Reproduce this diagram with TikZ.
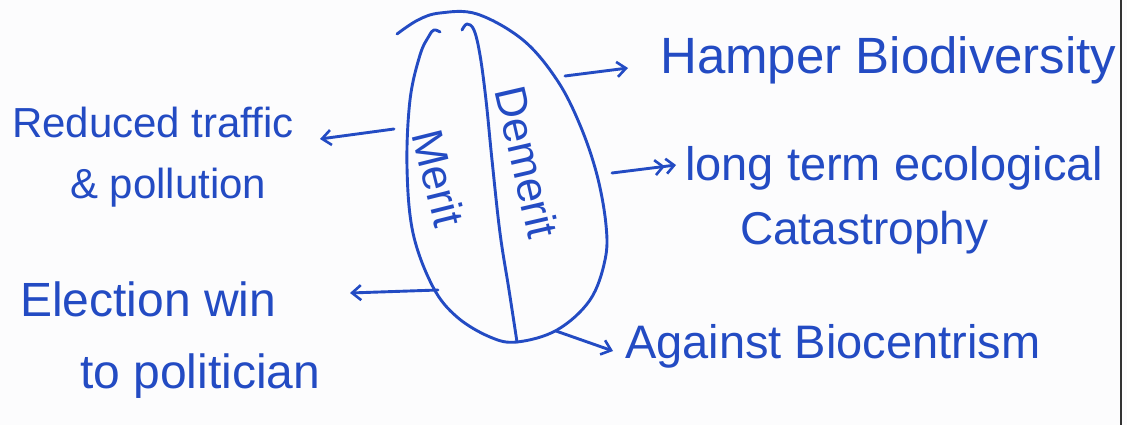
\documentclass[tikz,border=0pt]{standalone}
\usepackage{fontspec}
\setmainfont{Liberation Sans}
\usetikzlibrary{arrows.meta}
\definecolor{ink}{RGB}{35,75,195}
\definecolor{paper}{RGB}{252,252,253}
\begin{document}
\begin{tikzpicture}[x=1pt,y=-1pt,
  stroke/.style={draw=ink,line width=2.9pt,line cap=round,line join=round},
  conn/.style={stroke,-{Straight Barb[length=9pt,width=15pt,line width=2.6pt]}},
  dconn/.style={stroke,-{Straight Barb[length=8pt,width=15pt,line width=2.6pt] Straight Barb[length=8pt,width=15pt,line width=2.6pt]}},
  txt/.style={text=ink,inner sep=0pt,anchor=base west},
  inner/.style={text=ink,inner sep=0pt}]
\fill[paper] (0,0) rectangle (1127,425);
\useasboundingbox (0,0) rectangle (1127,425);
% page edge
\draw[line width=1.6pt,black!80] (1121,0) -- (1121,425);
% the egg-shaped outline
\draw[stroke] plot[smooth,tension=0.6] coordinates {(397,34) (418,20) (440,13) (477,14) (523,40) (557,80) (580,125) (597,175) (606,225) (605,260) (590,300) (557,330) (517,342) (490,337) (457,317) (433,287) (413,233) (407,167) (410,100) (420,55) (429,36) (434,30) (440,32)};
% divider
\draw[stroke] plot[smooth,tension=0.6] coordinates {(462,30) (467,24) (474,30) (480,55) (486,100) (492,160) (500,233) (509,290) (517,342)};
% inner labels
\node[inner,rotate=-76,font=\fontsize{44}{52}\selectfont] (merit) at (439,178) {Merit};
\node[inner,rotate=-77,font=\fontsize{44}{52}\selectfont] (demerit) at (527,162) {Demerit};
% texts
\node[txt,font=\fontsize{42}{50}\selectfont] (red) at (12,138) {Reduced traffic};
\node[txt,font=\fontsize{42}{50}\selectfont] (poll) at (70,198) {\& pollution};
\node[txt,font=\fontsize{48}{56}\selectfont] (elec) at (20,316) {Election win};
\node[txt,font=\fontsize{48}{56}\selectfont] (poli) at (80,388) {to politician};
\node[txt,font=\fontsize{51}{60}\selectfont] (hamp) at (660,74) {Hamper Biodiversity};
\node[txt,font=\fontsize{47}{56}\selectfont] (long) at (685,180) {long term ecological};
\node[txt,font=\fontsize{46}{56}\selectfont] (cat) at (740,244) {Catastrophy};
\node[txt,font=\fontsize{47}{56}\selectfont] (agn) at (625,358) {Against Biocentrism};
% connector end points
\coordinate (hA) at (565,76); \coordinate (hB) at (628,68);
\coordinate (lA) at (612,173); \coordinate (lB) at (676,165);
\coordinate (aA) at (556,331); \coordinate (aB) at (613,351);
\coordinate (rA) at (394,129); \coordinate (rB) at (320,139);
\coordinate (eA) at (438,290); \coordinate (eB) at (350,293);
\draw[conn] (hA) -- (hB);
\draw[dconn] (lA) -- (lB);
\draw[conn] (aA) -- (aB);
\draw[conn] (rA) -- (rB);
\draw[conn] (eA) -- (eB);
\end{tikzpicture}
\end{document}
